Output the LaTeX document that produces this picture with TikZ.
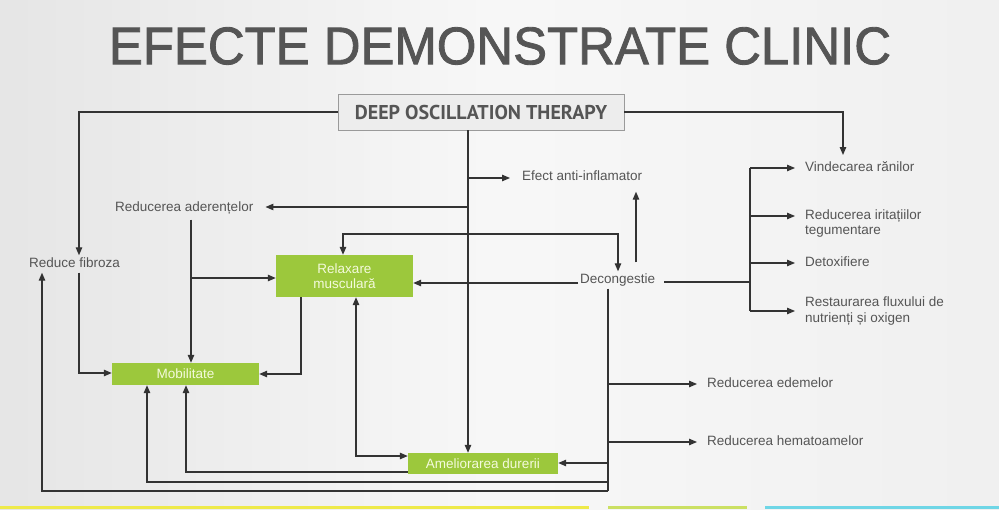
\documentclass[tikz,border=0pt]{standalone}
\usepackage{fontspec}
\setmainfont{Liberation Sans}
\newfontfamily\ptsans{PT Sans}
\newfontfamily\titlefont[FakeBold=1.6]{Liberation Sans}
\usetikzlibrary{arrows.meta}
\definecolor{txt}{HTML}{555555}
\definecolor{ttl}{HTML}{555555}
\definecolor{ln}{HTML}{333333}
\definecolor{grn}{HTML}{9CC83C}
\definecolor{gtx}{HTML}{F4FADC}
\definecolor{dotfill}{HTML}{EDEDED}
\definecolor{dotline}{HTML}{9A9A9A}
\definecolor{stripY}{HTML}{EEEA4A}
\definecolor{stripG}{HTML}{CBE063}
\definecolor{stripC}{HTML}{6FD6E6}
\tikzset{
  lbl/.style={font=\fontsize{13.5}{15}\selectfont, text=txt, inner sep=2pt, text height=10pt, text depth=3pt, anchor=west},
  mlbl/.style={font=\fontsize{13.5}{15.5}\selectfont, text=txt, inner sep=2pt, align=left, anchor=west},
  gbox/.style={fill=grn, text=gtx, font=\fontsize{13.5}{15.5}\selectfont, align=center, inner sep=0pt},
  arr/.style={draw=ln, line width=1.2pt, -{Triangle[length=8pt,width=6.5pt]}},
  arrl/.style={arr, shorten >=8pt},
  bar/.style={draw=ln, line width=1.2pt},
  dbl/.style={draw=ln, line width=1.2pt, {Triangle[length=8pt,width=6.5pt]}-{Triangle[length=8pt,width=6.5pt]}},
}
\begin{document}
\begin{tikzpicture}[x=1pt,y=-1pt]
\useasboundingbox (0,0) rectangle (999,509);
\shade[left color=black!10, right color=black!6, middle color=black!3] (0,0) rectangle (999,509);
% bottom strips
\fill[stripY] (0,505.5) rectangle (589,509);
\fill[stripG] (608,505.5) rectangle (747,509);
\fill[stripC] (765,505.5) rectangle (999,509);

% title
\node[text=ttl, font=\titlefont\fontsize{53}{53}\selectfont, xscale=0.96] (title) at (500,46) {EFECTE DEMONSTRATE CLINIC};

% top box
\node[draw=dotline, fill=dotfill, line width=0.8pt, minimum width=286pt, minimum height=36pt, inner sep=0pt,
      text=txt, font=\ptsans\bfseries\fontsize{20}{20}\selectfont] (dot) at (481,112) {DEEP OSCILLATION THERAPY};

% labels
\node[lbl] (fib) at (27,264) {Reduce fibroza};
\node[lbl] (ade) at (113,208) {Reducerea aderențelor};
\node[lbl] (efa) at (520,177) {Efect anti-inflamator};
\node[lbl] (dec) at (578,280) {Decongestie};
\node[lbl] (vin) at (803,168) {Vindecarea rănilor};
\node[lbl] (iri) at (803,216) {Reducerea iritațiilor};
\node[lbl] (iri2) at (803,231) {tegumentare};
\node[lbl] (det) at (803,263) {Detoxifiere};
\node[mlbl] (res) at (803,311) {Restaurarea fluxului de\\nutrienți și oxigen};
\node[lbl] (ede) at (705,384) {Reducerea edemelor};
\node[lbl] (hem) at (705,442) {Reducerea hematoamelor};

% green boxes
\node[gbox, minimum width=137pt, minimum height=42pt] (rel) at (344.5,276) {Relaxare\\musculară};
\node[gbox, minimum width=147pt, minimum height=22pt] (mob) at (185.5,374) {Mobilitate};
\node[gbox, minimum width=150pt, minimum height=21pt] (ame) at (483,463.5) {Ameliorarea durerii};

% columns and rows
\coordinate (cA) at (79,0);
\coordinate (cB) at (42,0);
\coordinate (cT) at (468,0);
\coordinate (cV) at (843,0);
\coordinate (cR) at (191,0);
\coordinate (cM1) at (147,0);
\coordinate (cM2) at (186,0);
\coordinate (cRx) at (301,0);
\coordinate (cRd) at (356,0);
\coordinate (cRt) at (343,0);
\coordinate (cDt) at (618,0);
\coordinate (cDe) at (636,0);
\coordinate (cDd) at (608,0);
\coordinate (cBus) at (750,0);
\coordinate (r155) at (0,155);
\coordinate (r178) at (0,178);
\coordinate (r207) at (0,207);
\coordinate (r234) at (0,234);
\coordinate (r278) at (0,278);
\coordinate (r282) at (0,282);
\coordinate (r283) at (0,283);
\coordinate (r373) at (0,373);
\coordinate (r374) at (0,374);
\coordinate (r456) at (0,456);
\coordinate (r463) at (0,463);
\coordinate (r472) at (0,472);
\coordinate (r482) at (0,482);
\coordinate (r491) at (0,491);

% connectors from the top box
\draw[arr] (dot.west) -| (fib.north -| cA);
\draw[arr] (dot.east) -| (cV |- r155);
\draw[arr] (dot.south -| cT) -- (ame.north -| cT);
\draw[arr] (cT |- r178) -- ([xshift=-10pt]efa.west |- r178);
\draw[arr] (cT |- r207) -- ([xshift=10pt]ade.east |- r207);
\draw[arr] (cT |- r234) -| (rel.north -| cRt);
\draw[arr] (cT |- r234) -| (dec.north -| cDt);

% Decongestie
\draw[arr] (dec.west |- r283) -- (rel.east |- r283);
\draw[arr, shorten <=9pt, shorten >=6pt] (dec.north -| cDe) -- (efa.south -| cDe);
\draw[bar, shorten <=7pt] (dec.east |- r282) -- (cBus |- r282);
\draw[bar] (cBus |- vin.west) -- (cBus |- res.west);
\draw[arrl] (cBus |- vin.west) -- (vin.west);
\draw[arrl] (cBus |- iri.west) -- (iri.west);
\draw[arrl] (cBus |- det.west) -- (det.west);
\draw[arrl] (cBus |- res.west) -- (res.west);
\draw[bar] (dec.south -| cDd) -- (cDd |- r491);
\draw[arrl] (cDd |- ede.west) -- (ede.west);
\draw[arrl] (cDd |- hem.west) -- (hem.west);
\draw[arr] (cDd |- r463) -- (ame.east |- r463);
\draw[arr] (cDd |- r482) -| (mob.south -| cM1);
\draw[arr] (cDd |- r491) -| (fib.south -| cB);

% left part
\draw[arr] (fib.south -| cA) |- (mob.west |- r373);
\draw[arr, shorten <=3pt] (ade.south -| cR) -- (mob.north -| cR);
\draw[arr] (cR |- r278) -- (rel.west |- r278);
\draw[arr] (rel.south -| cRx) |- (mob.east |- r374);
\draw[dbl] (rel.south -| cRd) |- (ame.west |- r456);
\draw[arr] (ame.west |- r472) -| (mob.south -| cM2);
\end{tikzpicture}
\end{document}
